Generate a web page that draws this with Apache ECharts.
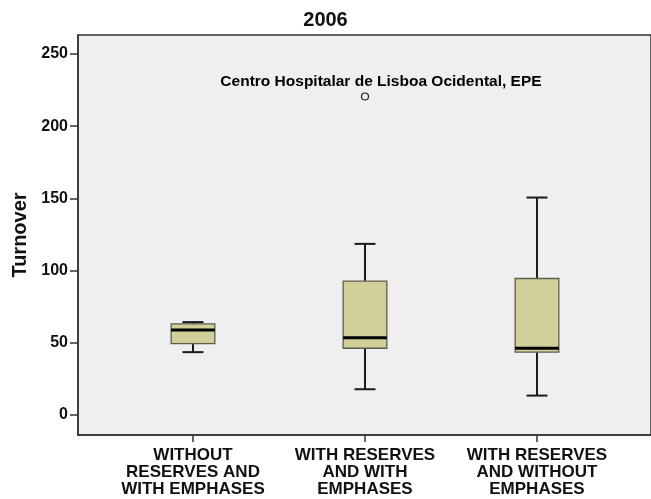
<!DOCTYPE html>
<html>
<head>
<meta charset="utf-8">
<title>2006 Turnover</title>
<script src="https://cdn.jsdelivr.net/npm/echarts@6/dist/echarts.min.js"></script>
<style>
  html, body { margin: 0; padding: 0; background: #fff; }
  #chart { width: 651px; height: 499px; }
</style>
</head>
<body>
<div id="chart"></div>
<script>
// categories and box statistics
const categories = [
  'WITHOUT\nRESERVES AND\nWITH EMPHASES',
  'WITH RESERVES\nAND WITH\nEMPHASES',
  'WITH RESERVES\nAND WITHOUT\nEMPHASES'
]
const lowWhisker = [43.5, 17.8, 13.4]
const q1 = [49.4, 46.2, 43.5]
const median = [58.9, 53.4, 46.2]
const q3 = [63.1, 92.7, 94.5]
const highWhisker = [64.3, 118.5, 150.6]
const outlierGroup = [1]
const outlierValue = [220.6]
const outlierName = ['Centro Hospitalar de Lisboa Ocidental, EPE']
const yTicks = [0, 50, 100, 150, 200, 250]
const xTicks = [0, 1, 2]

const FONT = '"Liberation Sans", Arial, sans-serif'

const boxData = categories.map((c, i) => [i, lowWhisker[i], q1[i], median[i], q3[i], highWhisker[i]])
const outlierData = outlierGroup.map((g, i) => ({ value: [g, outlierValue[i]], name: outlierName[i] }))

const chart = echarts.init(document.getElementById('chart'))

function renderBox(params, api) {
  const x = api.value(0)
  const pMin = api.coord([x, api.value(1)])
  const pQ1 = api.coord([x, api.value(2)])
  const pMed = api.coord([x, api.value(3)])
  const pQ3 = api.coord([x, api.value(4)])
  const pMax = api.coord([x, api.value(5)])
  const band = api.size([1, 0])[0]
  const half = band * 0.127
  const cap = band * 0.061
  const cx = pMin[0]
  const line = { stroke: '#1a1a1a', lineWidth: 2 }
  return {
    type: 'group',
    children: [
      { type: 'line', shape: { x1: cx, y1: pMax[1], x2: cx, y2: pQ3[1] }, style: line },
      { type: 'line', shape: { x1: cx, y1: pQ1[1], x2: cx, y2: pMin[1] }, style: line },
      { type: 'line', shape: { x1: cx - cap, y1: pMax[1], x2: cx + cap, y2: pMax[1] }, style: line },
      { type: 'line', shape: { x1: cx - cap, y1: pMin[1], x2: cx + cap, y2: pMin[1] }, style: line },
      {
        type: 'rect',
        shape: { x: cx - half, y: pQ3[1], width: half * 2, height: pQ1[1] - pQ3[1] },
        style: { fill: '#d3cf99', stroke: '#5e5d50', lineWidth: 1.3 }
      },
      { type: 'line', shape: { x1: cx - half, y1: pMed[1], x2: cx + half, y2: pMed[1] }, style: { stroke: '#000', lineWidth: 3 } }
    ]
  }
}

chart.setOption({
  animation: false,
  backgroundColor: '#fff',
  title: {
    text: '2006',
    left: 'center',
    top: 5,
    textStyle: { fontFamily: FONT, fontSize: 20, fontWeight: 'bold', color: '#111' }
  },
  grid: {
    left: 78,
    right: -2,
    top: 35,
    bottom: 64,
    show: true,
    backgroundColor: '#efefef',
    borderColor: '#333',
    borderWidth: 1.5
  },
  xAxis: {
    type: 'value',
    min: -0.6686,
    max: 2.663,
    splitLine: { show: false },
    axisLine: { show: true, onZero: false, lineStyle: { color: '#333', width: 1.5 } },
    axisTick: { show: true, customValues: xTicks, length: 7, lineStyle: { color: '#333', width: 1.5 } },
    axisLabel: {
      customValues: xTicks,
      margin: 12,
      formatter: v => categories[Math.round(v)],
      fontFamily: FONT,
      fontSize: 17,
      fontWeight: 'bold',
      lineHeight: 17,
      color: '#111',
      align: 'center'
    }
  },
  yAxis: {
    type: 'value',
    min: -13.9,
    max: 263.2,
    name: 'Turnover',
    nameLocation: 'middle',
    nameRotate: 90,
    nameGap: 47,
    nameTextStyle: { fontFamily: FONT, fontSize: 20, fontWeight: 'bold', color: '#111' },
    splitLine: { show: false },
    axisLine: { show: true, onZero: false, lineStyle: { color: '#333', width: 1.5 } },
    axisTick: { show: true, customValues: yTicks, length: 8, lineStyle: { color: '#333', width: 1.5 } },
    axisLabel: {
      customValues: yTicks,
      margin: 10,
      fontFamily: FONT,
      fontSize: 16,
      fontWeight: 'bold',
      color: '#111'
    }
  },
  series: [
    {
      type: 'custom',
      renderItem: renderBox,
      data: boxData,
      encode: { x: 0, y: [1, 2, 3, 4, 5] }
    },
    {
      type: 'scatter',
      data: outlierData,
      symbol: 'circle',
      symbolSize: 7,
      itemStyle: { color: '#efefef', borderColor: '#222', borderWidth: 1.2, opacity: 1 },
      label: {
        show: true,
        position: 'top',
        distance: 3,
        offset: [16, 0],
        formatter: p => p.name,
        fontFamily: FONT,
        fontSize: 15.5,
        fontWeight: 'bold',
        color: '#000'
      }
    }
  ]
})
</script>
</body>
</html>
